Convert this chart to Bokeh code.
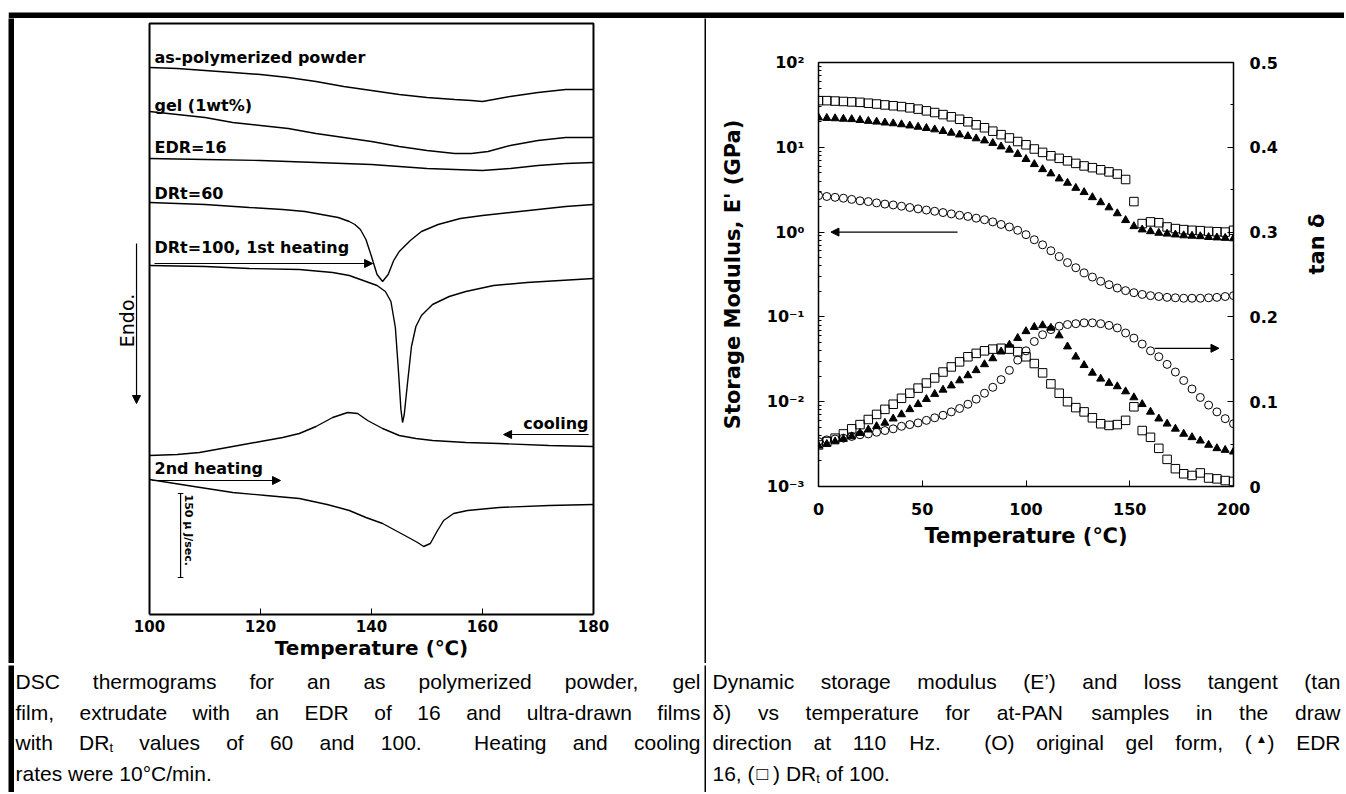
import math
from bokeh.plotting import figure
from bokeh.layouts import row, column
from bokeh.models import (Range1d, LinearAxis, LinearScale, FixedTicker,
                          CustomJSTickFormatter, Arrow, NormalHead,
                          ColumnDataSource, Spacer)
from bokeh.core.properties import value
from bokeh.embed import file_html
from bokeh.resources import INLINE

# ---------------------------------------------------------------
# Left panel: DSC thermograms (temperature in deg C, heat-flow traces
# in arbitrary stacked units, larger value = higher on the chart)
# ---------------------------------------------------------------
powder_T = [100, 105, 110, 115, 120, 125, 130, 135, 140, 145, 150, 155, 158, 160, 162, 165, 170, 175, 180]
powder_hf = [547, 546, 544, 542, 540, 537, 533, 528, 524, 520, 517, 515, 514, 513, 515, 518, 522, 525, 525]

gel_T = [100, 105, 110, 115, 120, 125, 130, 135, 140, 145, 150, 155, 158, 161, 165, 170, 175, 180]
gel_hf = [503, 500, 497, 492, 489, 486, 481, 477, 473, 468, 464, 461, 461, 463, 469, 474, 477, 477]

edr16_T = [100, 110, 120, 130, 140, 145, 150, 155, 160, 165, 170, 175, 180]
edr16_hf = [456, 455, 454, 452, 450, 448, 446, 445, 444, 446, 449, 451, 452]

drt60_T = [100, 110, 118, 124, 128, 132, 134, 136, 137, 138, 139, 140, 141, 142, 143, 144, 145,
           147, 149, 152, 156, 160, 165, 170, 175, 180]
drt60_hf = [412, 410, 407, 405, 403, 399, 397, 393, 390, 385, 375, 358, 340, 333, 340, 354, 363,
            374, 383, 390, 396, 399, 402, 405, 408, 410]

drt100_T = [100, 110, 118, 127, 133, 136, 139, 141, 142.5, 143.5, 144.3, 144.9, 145.3, 145.6, 145.9,
            146.5, 147.2, 148, 149, 151, 154, 157, 162, 168, 174, 180]
drt100_hf = [349, 348, 346, 345, 342, 339, 333, 329, 323, 313, 287, 240, 205, 192, 200,
             232, 268, 288, 299, 310, 318, 323, 329, 332, 334, 336]

cool_T = [100, 105, 109, 115, 120, 124, 127, 130, 133, 135.7, 137.5, 139.3, 142, 145, 148, 151, 157, 163, 172, 180]
cool_hf = [159, 160, 162, 168, 173, 177, 181, 188, 197, 202, 201, 194, 186, 179, 176, 174, 172, 171, 169, 168]

heat2_T = [100, 108, 115, 121, 127, 132, 136, 139, 142, 145, 147, 148.3, 149.4, 150.6, 151.9, 153,
           154.8, 157.3, 163, 172, 180]
heat2_hf = [135, 128, 122, 119, 116, 110, 104, 97, 91, 82, 76, 72, 68, 71, 84, 94,
            101, 104, 107, 109, 110]

dsc_names = ["as-polymerized powder", "gel (1wt%)", "EDR=16", "DRt=60", "DRt=100, 1st heating", "2nd heating"]
dsc_ticks = [100, 120, 140, 160, 180]

# ---------------------------------------------------------------
# Right panel: storage modulus E' (GPa) and tan delta vs temperature
# ---------------------------------------------------------------
dma_T = [0, 4, 8, 12, 16, 20, 24, 28, 32, 36, 40, 44, 48, 52, 56, 60, 64, 68, 72, 76, 80,
         84, 88, 92, 96, 100, 104, 108, 112, 116, 120, 124, 128, 132, 136, 140, 144, 148,
         152, 156, 160, 164, 168, 172, 176, 180, 184, 188, 192, 196, 200]

gel_E = [2.69, 2.63, 2.57, 2.51, 2.43, 2.34, 2.29, 2.21, 2.14, 2.09, 2.02, 1.95, 1.88, 1.82, 1.76,
         1.70, 1.64, 1.58, 1.53, 1.46, 1.40, 1.32, 1.23, 1.15, 1.05, 0.933, 0.813, 0.708, 0.603,
         0.513, 0.437, 0.380, 0.331, 0.295, 0.263, 0.240, 0.219, 0.204, 0.193, 0.184, 0.178,
         0.174, 0.170, 0.168, 0.166, 0.166, 0.166, 0.168, 0.170, 0.174, 0.178]
edr_E = [22.4, 22.1, 21.9, 21.6, 21.4, 20.9, 20.4, 20.0, 19.5, 19.1, 18.6, 18.0, 17.4, 16.8, 16.2,
         15.5, 14.8, 14.1, 13.5, 12.7, 12.0, 11.2, 10.2, 9.33, 8.32, 7.24, 6.31, 5.50, 4.90, 4.27,
         3.80, 3.31, 2.95, 2.57, 2.24, 1.95, 1.66, 1.38, 1.17, 1.07, 1.02, 0.977, 0.955, 0.933,
         0.912, 0.902, 0.891, 0.871, 0.861, 0.851, 0.841]
drt_E = [35.5, 35.5, 35.1, 34.7, 34.3, 33.9, 33.1, 32.4, 31.6, 30.9, 30.2, 29.2, 28.2, 26.9, 25.7,
         24.3, 22.9, 21.4, 20.0, 18.4, 17.0, 15.5, 14.1, 12.9, 11.7, 10.7, 9.55, 8.71, 7.94, 7.41,
         6.92, 6.46, 6.03, 5.75, 5.43, 5.13, 4.84, 4.17, 2.29, 1.26, 1.32, 1.29, 1.15, 1.10, 1.07,
         1.05, 1.04, 1.02, 1.01, 1.00, 1.05]

gel_tan = [0.053, 0.055, 0.056, 0.057, 0.059, 0.061, 0.062, 0.064, 0.066, 0.068, 0.071, 0.073,
           0.075, 0.078, 0.081, 0.084, 0.088, 0.092, 0.097, 0.103, 0.110, 0.117, 0.126, 0.137,
           0.149, 0.160, 0.171, 0.179, 0.185, 0.189, 0.191, 0.192, 0.193, 0.193, 0.192, 0.190,
           0.187, 0.181, 0.175, 0.168, 0.160, 0.153, 0.144, 0.135, 0.125, 0.115, 0.105, 0.096,
           0.088, 0.080, 0.074]
edr_tan = [0.048, 0.050, 0.053, 0.056, 0.059, 0.063, 0.067, 0.071, 0.075, 0.080, 0.085, 0.091,
           0.097, 0.103, 0.109, 0.114, 0.119, 0.125, 0.131, 0.137, 0.144, 0.151, 0.159, 0.167,
           0.175, 0.183, 0.188, 0.190, 0.187, 0.178, 0.165, 0.153, 0.143, 0.134, 0.127, 0.122,
           0.118, 0.112, 0.105, 0.097, 0.088, 0.080, 0.074, 0.068, 0.062, 0.058, 0.054, 0.049,
           0.045, 0.043, 0.041]
drt_tan = [0.049, 0.053, 0.057, 0.062, 0.068, 0.073, 0.079, 0.085, 0.091, 0.097, 0.104, 0.110,
           0.116, 0.122, 0.128, 0.135, 0.141, 0.147, 0.153, 0.157, 0.160, 0.162, 0.163, 0.162,
           0.159, 0.153, 0.145, 0.134, 0.121, 0.110, 0.100, 0.093, 0.088, 0.081, 0.074, 0.072,
           0.073, 0.078, 0.094, 0.066, 0.058, 0.045, 0.032, 0.021, 0.015, 0.013, 0.016, 0.010,
           0.009, 0.007, 0.006]

dma_x_ticks = [0, 50, 100, 150, 200]
tan_ticks = [0, 0.1, 0.2, 0.3, 0.4, 0.5]
tan_minor = [0.05, 0.15, 0.25, 0.35, 0.45]

# ---------------------------------------------------------------
# Captions (DR_t = DR with subscript t, (^) = small filled triangle)
# ---------------------------------------------------------------
caption_left = [
    "DSC thermograms for an as polymerized powder, gel",
    "film, extrudate with an EDR of 16 and ultra-drawn films",
    "with DR_t values of 60 and 100.  Heating and cooling",
    "rates were 10\u00b0C/min.",
]
caption_right = [
    "Dynamic storage modulus (E\u2019) and loss tangent (tan",
    "\u03b4) vs temperature for at-PAN samples in the draw",
    "direction at 110 Hz.  (O) original gel form, (^) EDR",
    "16, (\u25a1) DR_t of 100.",
]

CF = value("DejaVu Sans")
CAPF = value("Liberation Sans")
CAP_FS = 21


def style_axis(ax, fs="15px"):
    ax.major_label_text_font = "DejaVu Sans"
    ax.major_label_text_font_style = "bold"
    ax.major_label_text_font_size = fs
    ax.major_label_text_color = "black"
    ax.axis_label_text_font = "DejaVu Sans"
    ax.axis_label_text_font_style = "bold"
    ax.axis_label_text_color = "black"
    ax.axis_line_color = "black"
    ax.major_tick_line_color = "black"
    ax.minor_tick_line_color = "black"
    ax.major_tick_in = 6
    ax.major_tick_out = 0
    ax.minor_tick_in = 3
    ax.minor_tick_out = 0


def no_align(f):
    try:
        f.frame_align = False
    except Exception:
        pass


def bare(w, h, xr, yr):
    b = figure(width=w, height=h, toolbar_location=None, output_backend="svg",
               x_axis_location=None, y_axis_location=None, min_border=0,
               x_range=xr, y_range=yr)
    b.grid.visible = False
    b.outline_line_color = None
    no_align(b)
    return b


def block(w, h):
    b = bare(w, h, Range1d(0, 1), Range1d(0, 1))
    b.background_fill_color = "black"
    b.border_fill_color = "black"
    return b


# thick top rule of the table (12..18 px from the page top)
topbar = bare(1336, 18, Range1d(0, 1336), Range1d(18, 0))
topbar.quad(left=[0], right=[1336], top=[12], bottom=[18], fill_color="black", line_color=None)

# ======================= left chart ============================
# frame is widened on both sides so the "Endo." marker lives inside it;
# the visible box is drawn at 100..180 deg C
p1 = figure(width=690, height=645, x_range=Range1d(93.33, 186.67), y_range=Range1d(0, 594),
            toolbar_location=None, output_backend="svg", y_axis_location=None,
            min_border_left=98, min_border_right=74, min_border_top=2, min_border_bottom=49)
no_align(p1)
p1.grid.visible = False
p1.outline_line_color = None
xa = p1.xaxis[0]
style_axis(xa)
xa.bounds = (100, 180)
xa.ticker = FixedTicker(ticks=dsc_ticks)
xa.axis_line_width = 2
xa.major_label_standoff = 5
xa.axis_label = "Temperature (\u2103)"
xa.axis_label_text_font_size = "20px"
xa.axis_label_standoff = 1

# box around the thermograms
p1.multi_line(xs=[[100, 100, 180, 180]], ys=[[0, 591, 591, 0]], line_color="black", line_width=2)

for T, hf in [(powder_T, powder_hf), (gel_T, gel_hf), (edr16_T, edr16_hf), (drt60_T, drt60_hf),
              (drt100_T, drt100_hf), (cool_T, cool_hf), (heat2_T, heat2_hf)]:
    p1.line(T, hf, line_color="black", line_width=1.4)

p1.text(x=[100.9] * 6, y=[557, 509, 467, 421, 367, 146], text=dsc_names,
        text_font=CF, text_font_style="bold", text_font_size="16px",
        text_baseline="middle", text_align="left", text_color="black")
p1.text(x=[179.1], y=[191], text=["cooling"], text_font=CF, text_font_style="bold",
        text_font_size="16px", text_baseline="middle", text_align="right", text_color="black")
p1.text(x=[95.9], y=[294], text=["Endo."], angle=math.pi / 2, text_font=CF,
        text_font_size="19px", text_baseline="middle", text_align="center", text_color="black")

head = dict(size=8, fill_color="black", line_color="black")
p1.add_layout(Arrow(x_start=100.9, y_start=351, x_end=140.2, y_end=351,
                    end=NormalHead(**head), line_width=1.2, line_color="black"))
p1.add_layout(Arrow(x_start=179.1, y_start=180, x_end=163.8, y_end=180,
                    end=NormalHead(**head), line_width=1.2, line_color="black"))
p1.add_layout(Arrow(x_start=100.5, y_start=134, x_end=123.6, y_end=134,
                    end=NormalHead(**head), line_width=1.2, line_color="black"))
p1.add_layout(Arrow(x_start=97.66, y_start=371, x_end=97.66, y_end=211,
                    end=NormalHead(**head), line_width=1.2, line_color="black"))

# 150 uJ/sec scale bar
p1.segment(x0=[105.6, 105.1, 105.1], y0=[37, 121, 37], x1=[105.6, 106.1, 106.1], y1=[121, 121, 37],
           line_color="black", line_width=1.2)
p1.text(x=[107.1], y=[120], text=["150 \u03bc J/sec."], angle=-math.pi / 2,
        text_font=CF, text_font_style="bold", text_font_size="11px",
        text_baseline="middle", text_align="left", text_color="black")

# ======================= right chart ===========================
p2 = figure(width=638, height=645, x_range=Range1d(0, 200), y_range=Range1d(1e-3, 1e2),
            y_axis_type="log", toolbar_location=None, output_backend="svg",
            min_border_left=112, min_border_right=111, min_border_top=44, min_border_bottom=177)
no_align(p2)
p2.grid.visible = False
p2.outline_line_color = "black"
p2.outline_line_width = 1.5
p2.extra_y_ranges = {"tan": Range1d(0, 0.5)}
p2.extra_y_scales = {"tan": LinearScale()}

bx = p2.xaxis[0]
style_axis(bx, "16px")
bx.ticker = FixedTicker(ticks=dma_x_ticks)
bx.minor_tick_line_color = None
bx.major_label_standoff = 16
bx.axis_label = "Temperature (\u2103)"
bx.axis_label_text_font_size = "21px"
bx.axis_label_standoff = 6

ly = p2.yaxis[0]
style_axis(ly, "16px")
ly.formatter = CustomJSTickFormatter(code="""
const sup = {"-": "\u207b", "0": "\u2070", "1": "\u00b9", "2": "\u00b2", "3": "\u00b3", "4": "\u2074", "5": "\u2075"};
const e = Math.round(Math.log10(tick));
return "10" + String(e).split("").map(c => sup[c]).join("");
""")
ly.major_label_standoff = 14
ly.axis_label = "Storage Modulus, E' (GPa)"
ly.axis_label_text_font_size = "21px"
ly.axis_label_standoff = 19

ry = LinearAxis(y_range_name="tan", ticker=FixedTicker(ticks=tan_ticks, minor_ticks=tan_minor),
                formatter=CustomJSTickFormatter(code="return tick == 0 ? '0' : tick.toFixed(1);"))
style_axis(ry, "16px")
ry.major_label_standoff = 16
ry.axis_label = "tan \u03b4"
ry.axis_label_text_font_size = "21px"
ry.axis_label_standoff = 36
try:
    ry.axis_label_orientation = math.pi / 2
except Exception:
    pass
p2.add_layout(ry, "right")

p2.scatter(dma_T, gel_E, marker="circle", size=8, fill_color=None, line_color="black", line_width=1)
p2.scatter(dma_T, edr_E, marker="triangle", size=8, fill_color="black", line_color="black", line_width=1)
p2.scatter(dma_T, drt_E, marker="square", size=8.5, fill_color=None, line_color="black", line_width=1)
p2.scatter(dma_T, gel_tan, marker="circle", size=8, fill_color=None, line_color="black",
           line_width=1, y_range_name="tan")
p2.scatter(dma_T, edr_tan, marker="triangle", size=8, fill_color="black", line_color="black",
           line_width=1, y_range_name="tan")
p2.scatter(dma_T, drt_tan, marker="square", size=8.5, fill_color=None, line_color="black",
           line_width=1, y_range_name="tan")

p2.add_layout(Arrow(x_start=67, y_start=1.0, x_end=6, y_end=1.0, end=NormalHead(**head),
                    line_width=1.2, line_color="black"))
p2.add_layout(Arrow(x_start=162, y_start=0.163, x_end=193, y_end=0.163, end=NormalHead(**head),
                    line_width=1.2, line_color="black", y_range_name="tan"))

# ======================= captions ==============================
AW = {' ': 278, '(': 333, ')': 333, ',': 278, '-': 333, '.': 278, '/': 278, '%': 889, '=': 584,
      "'": 191, '\u2019': 222, '\u00b0': 400, '\u03b4': 556, '\u25b2': 770, '\u25a1': 770,
      'A': 667, 'B': 667, 'C': 722, 'D': 722, 'E': 667, 'F': 611, 'G': 778, 'H': 722, 'I': 278,
      'N': 722, 'O': 778, 'P': 667, 'R': 722, 'S': 667, 'T': 611, 'z': 500,
      'a': 556, 'b': 556, 'c': 500, 'd': 556, 'e': 556, 'f': 278, 'g': 556, 'h': 556, 'i': 222,
      'j': 222, 'k': 500, 'l': 222, 'm': 833, 'n': 556, 'o': 556, 'p': 556, 'q': 556, 'r': 333,
      's': 500, 't': 278, 'u': 556, 'v': 500, 'w': 722, 'x': 500, 'y': 500}
for d in "0123456789":
    AW[d] = 556

SPECIAL = {
    "DR_t": [("DR", 1.0, 0.0, 0.0), ("t", 0.62, 5.0, 0.0)],
    "(^)": [("(", 1.0, 0.0, 0.0), ("\u25b2", 0.55, -4.0, 4.0), (")", 1.0, 0.0, 3.0)],
    "(\u25a1)": [("(", 1.0, 0.0, 0.0), ("\u25a1", 0.9, 0.0, 2.0), (")", 1.0, 0.0, 2.0)],
}


def tw(s, fs):
    return sum(AW.get(ch, 556) for ch in s) * fs / 1000.0


def caption_sources(lines, x0, x1, ys, justs, fs):
    L = dict(x=[], y=[], text=[], fs=[])
    R = dict(x=[], y=[], text=[], fs=[])
    for line, y, just in zip(lines, ys, justs):
        words, gaps, g = [], [], 0
        for t in line.split(" "):
            if t == "":
                g += 1
                continue
            if words:
                gaps.append(g)
            g = 1
            words.append(SPECIAL.get(t, [(t, 1.0, 0.0, 0.0)]))
        widths = [sum(pad + tw(s, fs * sc) for s, sc, dy, pad in w) for w in words]
        if just:
            unit = (x1 - x0 - sum(widths)) / float(sum(gaps))
        else:
            unit = tw(" ", fs)
        x = x0
        for i, w in enumerate(words):
            if just and i == len(words) - 1 and len(w) == 1:
                R["x"].append(x1); R["y"].append(y); R["text"].append(w[0][0]); R["fs"].append("%gpx" % fs)
                break
            xx = x
            for s, sc, dy, pad in w:
                xx += pad
                L["x"].append(xx); L["y"].append(y + dy); L["text"].append(s)
                L["fs"].append("%gpx" % (fs * sc))
                xx += tw(s, fs * sc)
            if i < len(gaps):
                x += widths[i] + gaps[i] * unit
    return ColumnDataSource(L), ColumnDataSource(R)


def caption_fig(w, lines, x0, x1):
    c = bare(w, 127, Range1d(0, w), Range1d(127, 0))
    srcL, srcR = caption_sources(lines, x0, x1, [16, 47, 77, 108], [True, True, True, False], CAP_FS)
    c.text(x="x", y="y", text="text", text_font_size="fs", source=srcL, text_font=CAPF,
           text_baseline="middle", text_align="left", text_color="black")
    c.text(x="x", y="y", text="text", text_font_size="fs", source=srcR, text_font=CAPF,
           text_baseline="middle", text_align="right", text_color="black")
    return c


c1 = caption_fig(690, caption_left, 1, 686)
c2 = caption_fig(638, caption_right, 6, 634)

table = column(
    topbar,
    row(block(6, 645), p1, block(2, 645), p2),
    block(1336, 2),
    row(block(6, 127), c1, block(2, 127), c2),
)
layout = row(Spacer(width=8, height=10), table)

open("out.html", "w").write(file_html(layout, INLINE))
